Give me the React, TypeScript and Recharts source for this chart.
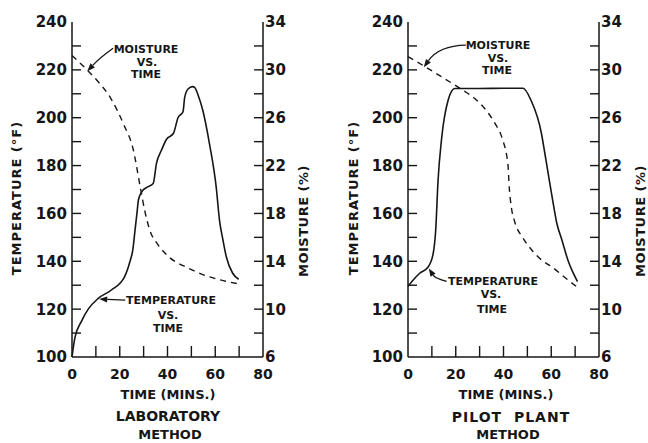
import React from "react";
import { LineChart, Line, XAxis, YAxis, ReferenceLine } from "recharts";

// ── Axis ticks (minor ticks carry no label) ──
const timeTicks = [0, 10, 20, 30, 40, 50, 60, 70, 80];
const tempTicks = [100, 110, 120, 130, 140, 150, 160, 170, 180, 190, 200, 210, 220, 230, 240];
const moistureTicks = [6, 8, 10, 12, 14, 16, 18, 20, 22, 24, 26, 28, 30, 32, 34];

// ── Laboratory method: [time (min), value] ──
const labTemperature: [number, number][] = [
  [0, 100], [1.2, 108], [4, 115], [6.8, 120], [11, 124.5], [16.5, 128], [22, 133.5],
  [24.3, 140], [25.5, 145], [26.4, 153], [27.3, 161], [27.8, 165.5], [29.2, 169],
  [31.5, 171], [34, 172.5], [35.4, 181], [37.5, 186.5], [39.6, 191], [42.5, 193.5],
  [44.4, 200], [46.5, 202.5], [47.2, 208.5], [48.6, 212], [50.5, 213], [51.5, 212.5],
  [52.8, 209.5], [54.8, 203], [57.6, 189], [60.4, 171], [61.8, 157], [63.2, 149],
  [64.6, 142], [67.3, 135], [69.8, 132.5],
];
const labMoisture: [number, number][] = [
  [0, 31.2], [6.3, 30], [11, 29], [16, 27.7], [21.5, 25.5], [25.7, 23.3], [28.5, 20.3],
  [30.5, 18.2], [32.6, 16.6], [36, 15.4], [41, 14.3], [48, 13.5], [56, 12.8], [63, 12.4],
  [70, 12.1],
];

// ── Pilot plant method ──
const pilotTemperature: [number, number][] = [
  [0, 129.5], [2, 132], [4.9, 135], [8.4, 137.6], [10.5, 143], [11.6, 153], [12.6, 174],
  [14, 190.6], [16.8, 207.3], [19.6, 212.2], [30, 212.2], [40, 212.3], [48.2, 212.3],
  [51.5, 207.3], [55.9, 193.4], [57.1, 186.4], [58.5, 178], [60.6, 165.5], [62.3, 156],
  [64.5, 148.8], [67, 140.4], [71, 131.5],
];
const pilotMoisture: [number, number][] = [
  [0, 31.1], [7.7, 30.2], [15, 29.3], [23, 28.3], [28, 27.6], [32.8, 26.6], [36.5, 25.5],
  [39.4, 24.3], [41.9, 22], [42.3, 20.5], [43.3, 18.5], [44.7, 17.3], [48, 16], [52, 14.9],
  [56, 14.1], [60.5, 13.5], [66, 12.6], [70.5, 11.9],
];

// ── Annotation arrows: [fromTime, fromTemp, toTime, toTemp, bend] ──
const labArrows: [number, number, number, number, number][] = [
  [17.2, 229, 6.4, 219.4, 0.05],
  [22.3, 123.8, 11.4, 124.2, 0],
];
const pilotArrows: [number, number, number, number, number][] = [
  [24.2, 230.3, 6.6, 221.1, 0.25],
  [16.2, 131.6, 8.7, 137, -0.2],
];

const INK = "#161616";
const FONT = "'DejaVu Sans', sans-serif";
const LABEL_SIZE = 15;
const X_LABEL_SIZE = 14;
const TICK_LEN = 9;

const toRows = (pts: [number, number][]) => pts.map(([t, v]) => ({ t, v }));

// Inward-pointing ticks. tickSize/tickMargin are 0, so (x, y) is the point on
// the axis line itself; the mark and the label are drawn from there.
type Side = "bottom" | "top" | "left" | "right";
function makeTick(side: Side, ends: [number, number], labelled: (v: number) => boolean) {
  return (p: any) => {
    const x = Number(p.x), y = Number(p.y);
    const v = Number(p.payload?.value);
    const inner = v !== ends[0] && v !== ends[1];
    const show = labelled(v);
    const txt = { fontSize: LABEL_SIZE, fontWeight: 700, fill: INK, fontFamily: FONT } as const;
    if (side === "bottom") {
      return (
        <g>
          {inner && <line x1={x} y1={y} x2={x} y2={y - TICK_LEN - 2} stroke={INK} strokeWidth={1.4} />}
          {show && (
            <text x={x} y={y + 22} textAnchor="middle" {...txt} fontSize={X_LABEL_SIZE}>
              {v}
            </text>
          )}
        </g>
      );
    }
    if (side === "top") {
      return <g>{inner && <line x1={x} y1={y} x2={x} y2={y + TICK_LEN} stroke={INK} strokeWidth={1.4} />}</g>;
    }
    if (side === "left") {
      return (
        <g>
          {inner && <line x1={x} y1={y} x2={x + TICK_LEN} y2={y} stroke={INK} strokeWidth={1.4} />}
          {show && <text x={x - 5} y={y} dy="0.36em" textAnchor="end" {...txt}>{v}</text>}
        </g>
      );
    }
    return (
      <g>
        {inner && <line x1={x} y1={y} x2={x - TICK_LEN} y2={y} stroke={INK} strokeWidth={1.4} />}
        {show && <text x={x + 2} y={y} dy="0.36em" textAnchor="start" {...txt}>{v}</text>}
      </g>
    );
  };
}

// Curved leader with a filled arrowhead, drawn from the ReferenceLine endpoints.
function arrowShape(bend: number) {
  return (p: any) => {
    const x1 = Number(p.x1), y1 = Number(p.y1), x2 = Number(p.x2), y2 = Number(p.y2);
    if (![x1, y1, x2, y2].every(isFinite)) return <g />;
    const dx = x2 - x1, dy = y2 - y1;
    const cx = (x1 + x2) / 2 - dy * bend;
    const cy = (y1 + y2) / 2 + dx * bend;
    const ax = x2 - cx, ay = y2 - cy;
    const len = Math.hypot(ax, ay) || 1;
    const ux = ax / len, uy = ay / len;
    const hl = 8, hw = 3;
    const bx = x2 - ux * hl, by = y2 - uy * hl;
    const head = `${x2},${y2} ${bx - uy * hw},${by + ux * hw} ${bx + uy * hw},${by - ux * hw}`;
    return (
      <g>
        <path d={`M${x1},${y1} Q${cx},${cy} ${bx},${by}`} fill="none" stroke={INK} strokeWidth={1.3} />
        <polygon points={head} fill={INK} />
      </g>
    );
  };
}

interface PanelProps {
  width: number;
  margin: { top: number; right: number; bottom: number; left: number };
  temperature: [number, number][];
  moisture: [number, number][];
  arrows: [number, number, number, number, number][];
}

function Panel({ width, margin, temperature, moisture, arrows }: PanelProps) {
  const axisCommon = { stroke: INK, strokeWidth: 1.5, tickLine: false, tickSize: 0, tickMargin: 0, interval: 0 as const };
  return (
    <LineChart width={width} height={443} margin={margin}>
      <XAxis
        xAxisId="b"
        dataKey="t"
        type="number"
        domain={[0, 80]}
        ticks={timeTicks}
        height={30}
        tick={makeTick("bottom", [0, 80], (v) => v % 20 === 0)}
        {...axisCommon}
      />
      <XAxis
        xAxisId="top"
        orientation="top"
        dataKey="t"
        type="number"
        domain={[0, 80]}
        ticks={timeTicks}
        height={0}
        tick={makeTick("top", [0, 80], () => false)}
        {...axisCommon}
      />
      <YAxis
        yAxisId="t"
        type="number"
        domain={[100, 240]}
        ticks={tempTicks}
        width={45}
        tick={makeTick("left", [100, 240], (v) => v % 20 === 0)}
        {...axisCommon}
      />
      <YAxis
        yAxisId="m"
        orientation="right"
        type="number"
        domain={[6, 34]}
        ticks={moistureTicks}
        width={45}
        tick={makeTick("right", [6, 34], (v) => (v - 6) % 4 === 0)}
        {...axisCommon}
      />
      <Line
        xAxisId="b"
        yAxisId="t"
        data={toRows(temperature)}
        dataKey="v"
        type="monotone"
        stroke={INK}
        strokeWidth={1.6}
        dot={false}
        isAnimationActive={false}
      />
      <Line
        xAxisId="b"
        yAxisId="m"
        data={toRows(moisture)}
        dataKey="v"
        type="monotone"
        stroke={INK}
        strokeWidth={1.4}
        strokeDasharray="6 5"
        dot={false}
        isAnimationActive={false}
      />
      {arrows.map(([t1, v1, t2, v2, bend], i) => (
        <ReferenceLine
          key={i}
          xAxisId="b"
          yAxisId="t"
          segment={[{ x: t1, y: v1 }, { x: t2, y: v2 }]}
          shape={arrowShape(bend)}
        />
      ))}
    </LineChart>
  );
}

function Note({
  x, y, size = 11, ls = 0, rotate = false, children,
}: { x: number; y: number; size?: number; ls?: number; rotate?: boolean; children: React.ReactNode }) {
  return (
    <div
      style={{
        position: "absolute",
        left: x,
        top: y,
        transform: `translate(-50%, -50%)${rotate ? " rotate(-90deg)" : ""}`,
        fontSize: size,
        fontWeight: 700,
        letterSpacing: ls,
        lineHeight: 1,
        whiteSpace: "nowrap",
        color: INK,
      }}
    >
      {children}
    </div>
  );
}

export default function App() {
  return (
    <div
      style={{
        position: "absolute",
        left: 0,
        top: 0,
        width: 648,
        height: 443,
        background: "#fff",
        fontFamily: FONT,
        overflow: "hidden",
      }}
    >
      <div style={{ position: "absolute", left: 0, top: 0 }}>
        <Panel
          width={330}
          margin={{ top: 22, right: 22, bottom: 56, left: 27 }}
          temperature={labTemperature}
          moisture={labMoisture}
          arrows={labArrows}
        />
      </div>
      <div style={{ position: "absolute", left: 330, top: 0 }}>
        <Panel
          width={318}
          margin={{ top: 22, right: 4, bottom: 56, left: 33 }}
          temperature={pilotTemperature}
          moisture={pilotMoisture}
          arrows={pilotArrows}
        />
      </div>

      {/* axis titles */}
      <Note x={16} y={198} size={13} ls={1} rotate>TEMPERATURE (°F)</Note>
      <Note x={303} y={221} size={13} ls={0.5} rotate>MOISTURE (%)</Note>
      <Note x={353} y={198} size={13} ls={1} rotate>TEMPERATURE (°F)</Note>
      <Note x={640} y={221} size={13} ls={0.5} rotate>MOISTURE (%)</Note>

      <Note x={168} y={394} size={13}>TIME (MINS.)</Note>
      <Note x={168} y={416} size={14}>LABORATORY</Note>
      <Note x={170} y={434} size={13}>METHOD</Note>
      <Note x={506} y={394} size={13}>TIME (MINS.)</Note>
      <Note x={511} y={417} size={14} ls={1}>PILOT&nbsp;&nbsp;PLANT</Note>
      <Note x={508} y={434} size={13}>METHOD</Note>

      {/* curve annotations */}
      <Note x={146} y={49} size={11}>MOISTURE</Note>
      <Note x={147} y={62} size={11}>VS.</Note>
      <Note x={146} y={74} size={11}>TIME</Note>
      <Note x={171} y={300} size={11}>TEMPERATURE</Note>
      <Note x={168} y={315} size={11}>VS.</Note>
      <Note x={168} y={328} size={11}>TIME</Note>

      <Note x={498} y={45} size={11}>MOISTURE</Note>
      <Note x={498} y={58} size={11}>VS.</Note>
      <Note x={497} y={70} size={11}>TIME</Note>
      <Note x={493} y={281} size={11}>TEMPERATURE</Note>
      <Note x={491} y={294} size={11}>VS.</Note>
      <Note x={492} y={309} size={11}>TIME</Note>
    </div>
  );
}
